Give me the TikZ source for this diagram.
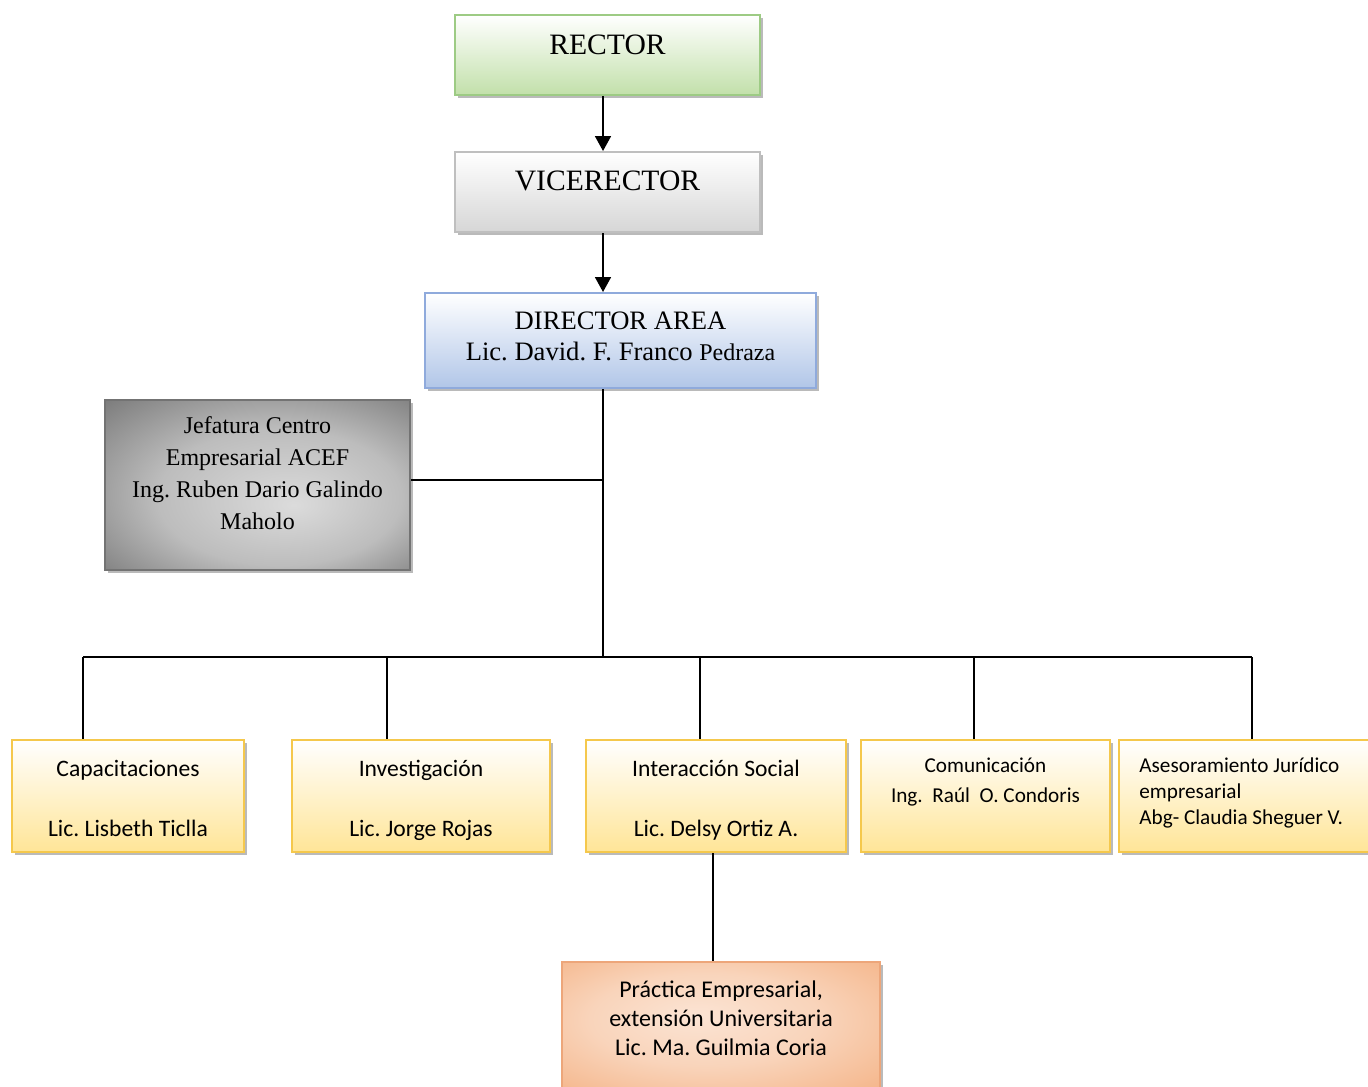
\documentclass[tikz,border=0pt]{standalone}
\usepackage{fontspec}
\setmainfont{Liberation Serif}
\newfontfamily\calibri{Carlito}
\frenchspacing
\usepackage{tikz}
\usetikzlibrary{arrows.meta, shadows}
\usepackage{xcolor}
\definecolor{rectorline}{HTML}{9DCB84}
\definecolor{rectorfill}{HTML}{C2E0AA}
\definecolor{viceline}{HTML}{BFBFBF}
\definecolor{vicefill}{HTML}{D6D6D6}
\definecolor{dirline}{HTML}{8FAADC}
\definecolor{dirfill}{HTML}{B1C6E8}
\definecolor{jefeline}{HTML}{737373}
\definecolor{arealine}{HTML}{F5C84C}
\definecolor{areafill}{HTML}{FFE597}
\definecolor{practline}{HTML}{EDA67A}
\definecolor{practfill}{HTML}{F4B183}
\pgfdeclareradialshading{metal}{\pgfpoint{6bp}{-6bp}}{%
	color(0bp)=(black!14); color(20bp)=(black!26); color(38bp)=(black!52); color(50bp)=(black!65)}
\pgfdeclareradialshading{peach}{\pgfpoint{-4bp}{4bp}}{%
	color(0bp)=(practfill!35!white); color(18bp)=(practfill!55!white); color(36bp)=(practfill!92!white); color(50bp)=(practfill)}
\tikzset{%
	every box/.style={
		draw,
		line width=1pt,
		inner sep=0pt,
		drop shadow={shadow xshift=1.5pt, shadow yshift=-1.5pt, fill=black!45, opacity=0.6}
	},
	rector box/.style={every box, draw=rectorline, top color=white, bottom color=rectorfill,
		minimum width=152.5pt, minimum height=40pt},
	vice box/.style={every box, draw=viceline, top color=white, bottom color=vicefill,
		minimum width=152.5pt, minimum height=40pt},
	director box/.style={every box, draw=dirline, top color=white, bottom color=dirfill,
		minimum width=195.5pt, minimum height=47.5pt},
	jefe box/.style={every box, draw=jefeline, shading=metal,
		minimum width=152.5pt, minimum height=85pt},
	area box/.style={every box, draw=arealine, top color=white, bottom color=areafill,
		minimum height=56pt},
	practica box/.style={every box, draw=practline, shading=peach,
		minimum width=159pt, minimum height=64pt},
	serif text/.style={inner sep=0pt, align=center},
	calibri text/.style={inner sep=0pt, align=center, font=\calibri\fontsize{11.8}{14}\selectfont},
}
\begin{document}
\begin{tikzpicture}[
		x=0.5pt, y=-0.5pt,
		link/.style={line width=0.9pt},
		arrow/.style={link, -{Triangle[width=8pt,length=7.5pt]}}
	]
	\useasboundingbox (0,0) rectangle (1368,1086);

	% upper levels
	\node[rector box] (rector) at (607.5,55) {};
	\node[serif text, font=\fontsize{14.8}{17}\selectfont] (rectortext) at ([yshift=5pt]rector.center) {RECTOR};
	\node[vice box] (vice) at (607.5,192) {};
	\node[serif text, font=\fontsize{14.8}{17}\selectfont] (vicetext) at ([yshift=5.5pt]vice.center) {VICERECTOR};
	\node[director box] (director) at (620.5,340.5) {};
	\node[serif text, font=\fontsize{13.3}{15.5}\selectfont] (directortext) at ([yshift=2pt]director.center)
		{DIRECTOR AREA\\Lic. David. F. Franco {\fontsize{12}{15.5}\selectfont Pedraza}};
	\node[jefe box] (jefe) at (257.5,485) {};
	\node[serif text, font=\fontsize{12}{16}\selectfont] (jefetext) at ([yshift=6pt]jefe.center)
		{Jefatura Centro\\Empresarial ACEF\\Ing. Ruben Dario Galindo\\Maholo};

	% areas
	\node[area box, minimum width=116pt] (capac) at (128,796) {};
	\node[calibri text] (capactext) at ([yshift=-1pt]capac.center) {Capacitaciones\\[16pt]Lic. Lisbeth Ticlla};
	\node[area box, minimum width=129pt] (invest) at (421,796) {};
	\node[calibri text] (investtext) at ([yshift=-2pt]invest.center) {Investigación\\[16pt]Lic. Jorge Rojas};
	\node[area box, minimum width=130pt] (interac) at (716,796) {};
	\node[calibri text] (interactext) at ([yshift=-2pt]interac.center) {Interacción Social\\[16pt]Lic. Delsy Ortiz A.};
	\node[area box, minimum width=124.5pt] (comunic) at (985.5,796) {};
	\node[calibri text, font=\calibri\fontsize{10.6}{15}\selectfont] (comunictext) at ([yshift=7pt]comunic.center)
		{Comunicación\\Ing.\ \ Raúl\ \ O. Condoris};
	\node[area box, minimum width=126.5pt] (asesor) at (1245.5,796) {};
	\node[calibri text, align=left, anchor=west, font=\calibri\fontsize{10.6}{13}\selectfont] (asesortext)
		at ([xshift=10.5pt,yshift=1.5pt]asesor.west)
		{Asesoramiento Jurídico\\empresarial\\Abg- Claudia Sheguer V.};
	\node[practica box] (practica) at (721,1026) {};
	\node[calibri text, font=\calibri\fontsize{12}{14.5}\selectfont] (practicatext) at ([yshift=4pt]practica.center)
		{Práctica Empresarial,\\extensión Universitaria\\Lic. Ma. Guilmia Coria};

	% connectors
	\coordinate (bus) at (603,657);
	\coordinate (d1) at (83,657);
	\coordinate (d2) at (387,657);
	\coordinate (d3) at (700,657);
	\coordinate (d4) at (974,657);
	\coordinate (d5) at (1252,657);
	\draw[arrow] (rector.south -| bus) -- (vice.north -| bus);
	\draw[arrow] (vice.south -| bus) -- (director.north -| bus);
	\draw[link] (director.south -| bus) -- (bus);
	\draw[link] ([yshift=2.5pt]jefe.east) -- ([yshift=2.5pt]jefe.east -| bus);
	\draw[link] (d1) -- (d5);
	\foreach \d/\b in {d1/capac, d2/invest, d3/interac, d4/comunic, d5/asesor}
		\draw[link] (\d) -- (\d |- \b.north);
	\draw[link] ([xshift=-1.5pt]interac.south) -- ([xshift=-1.5pt]interac.south |- practica.north);
\end{tikzpicture}
\end{document}
